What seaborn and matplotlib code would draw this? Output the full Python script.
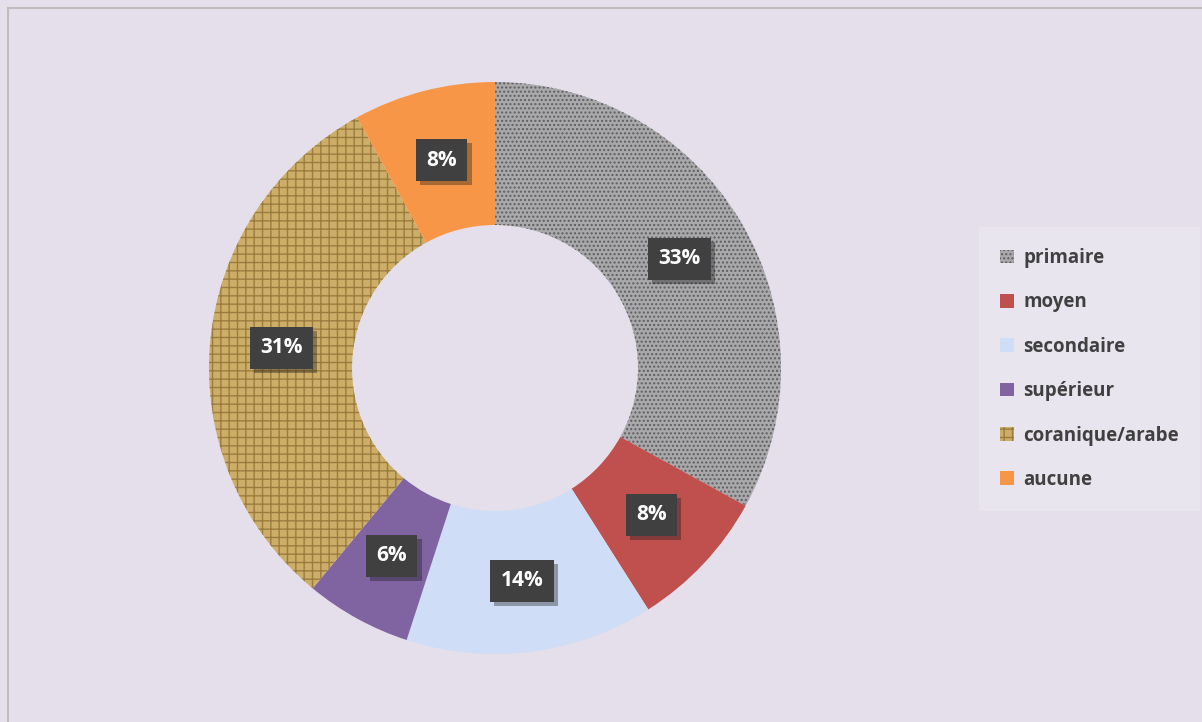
import matplotlib
matplotlib.use("Agg")
import matplotlib.pyplot as plt
import matplotlib.patheffects as pe
import seaborn as sns
import numpy as np
from matplotlib.patches import Rectangle, Patch

categories = ["primaire", "moyen", "secondaire", "supérieur", "coranique/arabe", "aucune"]
values = [33, 8, 14, 6, 31, 8]
labels = ["33%", "8%", "14%", "6%", "31%", "8%"]

sns.set_theme(style="white")
plt.rcParams['font.family'] = ['Open Sans', 'DejaVu Sans']
plt.rcParams['hatch.linewidth'] = 1.0

colors = ["#A9A9AB", "#C0504D", "#CFDDF6", "#8064A2", "#CDAE68", "#F79646"]
hatches = ["....", None, None, None, "++", None]
hatch_cols = ["#5E5E60", None, None, None, "#9C7C3E", None]

bg = "#E5DFEB"
fig = plt.figure(figsize=(12.02, 7.22), dpi=100, facecolor=bg)
fig.patches.append(Rectangle((8/1202, -0.01), 1.02, (722-8)/722 + 0.01, transform=fig.transFigure,
                             fill=False, edgecolor="#BDBDBD", linewidth=1.5))

ax = fig.add_axes([(495-286)/1202, (354-286)/722, 572/1202, 572/722])
ax.set_facecolor(bg)
wedges, _ = ax.pie(values, colors=colors, startangle=90, counterclock=False, radius=1,
                   wedgeprops=dict(width=0.5, edgecolor="none"))
for w, h, hc in zip(wedges, hatches, hatch_cols):
    if h:
        w.set_hatch(h)
        w.set_edgecolor(hc)
        w.set_linewidth(0)

ang = 90.0
total = sum(values)
for v, lab in zip(values, labels):
    span = 360.0 * v / total
    mid = np.deg2rad(ang - span / 2)
    ang -= span
    x, y = 0.75 * np.cos(mid), 0.75 * np.sin(mid)
    t = ax.text(x, y, lab, ha="center", va="center", fontsize=15, fontweight="bold",
                color="white", bbox=dict(boxstyle="square,pad=0.5", fc="#404040", ec="none"))
    t.get_bbox_patch().set_path_effects([pe.SimplePatchShadow(offset=(3, -3), alpha=0.35), pe.Normal()])
ax.set_xlim(-1, 1)
ax.set_ylim(-1, 1)
ax.set_aspect("equal")
ax.axis("off")

handles = []
for c, h, hc in zip(colors, hatches, hatch_cols):
    p = Patch(facecolor=c, edgecolor=hc if hc else c, hatch=h, linewidth=0)
    handles.append(p)
leg = fig.legend(handles, categories, loc="upper left", bbox_to_anchor=(985/1202, 1 - 233/722),
                 frameon=True, fontsize=13.5, labelspacing=1.3, handlelength=0.75, handleheight=0.75,
                 handletextpad=0.5, borderpad=0.8, borderaxespad=0)
leg.get_frame().set_facecolor("#EAE7EF")
leg.get_frame().set_edgecolor("none")
leg.get_frame().set_boxstyle("square")
for t in leg.get_texts():
    t.set_color("#404040")
    t.set_fontweight("bold")

fig.savefig("out.png", dpi=100, facecolor=bg)
